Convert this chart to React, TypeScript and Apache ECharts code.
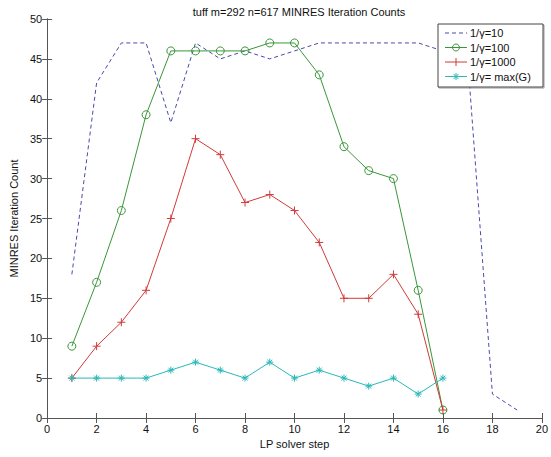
import React, { useEffect, useRef } from "react";
import * as echarts from "echarts";

const titleText = "tuff m=292 n=617 MINRES Iteration Counts";
const xName = "LP solver step";
const yName = "MINRES Iteration Count";
const seriesNames = ["1/γ=10", "1/γ=100", "1/γ=1000", "1/γ= max(G)"];

const stepsLong = [1, 2, 3, 4, 5, 6, 7, 8, 9, 10, 11, 12, 13, 14, 15, 16, 17, 18, 19];
const steps = [1, 2, 3, 4, 5, 6, 7, 8, 9, 10, 11, 12, 13, 14, 15, 16];

const gamma10 = [18, 42, 47, 47, 37, 47, 45, 46, 45, 46, 47, 47, 47, 47, 47, 46, 45, 3, 1];
const gamma100 = [9, 17, 26, 38, 46, 46, 46, 46, 47, 47, 43, 34, 31, 30, 16, 1];
const gamma1000 = [5, 9, 12, 16, 25, 35, 33, 27, 28, 26, 22, 15, 15, 18, 13, 1];
const gammaMax = [5, 5, 5, 5, 6, 7, 6, 5, 7, 5, 6, 5, 4, 5, 3, 5];

const colors = ["#4a4aa8", "#3a963a", "#d03a3a", "#2ab8b8"];

const plusPath = "path://M5,0 L5,10 M0,5 L10,5";
const starPath = "path://M5,0 L5,10 M0,5 L10,5 M1.5,1.5 L8.5,8.5 M1.5,8.5 L8.5,1.5";

const pairs = (xs: number[], ys: number[]) => ys.map((v, i) => [xs[i], v]);

function legendGraphic(font: string) {
  const bx = 438, by = 24, bw = 105, bh = 63;
  const x0 = 445, x1 = 467, xm = 456, tx = 470;
  const rows = [33, 47.5, 62, 76.5];
  const els: any[] = [
    { type: "rect", shape: { x: bx + 1, y: by + 1, width: bw, height: bh }, style: { fill: "none", stroke: "#999", lineWidth: 1 }, z: 99 },
    { type: "rect", shape: { x: bx, y: by, width: bw, height: bh }, style: { fill: "#fff", stroke: "#444", lineWidth: 1 }, z: 100 },
  ];
  rows.forEach((y, i) => {
    const c = colors[i];
    els.push({
      type: "line",
      shape: { x1: x0, y1: y, x2: x1, y2: y },
      style: { stroke: c, lineWidth: 1, lineDash: i === 0 ? [4, 3] : null },
      z: 101,
    });
    if (i === 1) {
      els.push({ type: "circle", shape: { cx: xm, cy: y, r: 3.5 }, style: { fill: "none", stroke: c, lineWidth: 1 }, z: 101 });
    } else if (i === 2) {
      els.push({ type: "line", shape: { x1: xm, y1: y - 4, x2: xm, y2: y + 4 }, style: { stroke: c, lineWidth: 1 }, z: 101 });
    } else if (i === 3) {
      els.push({ type: "line", shape: { x1: xm, y1: y - 3.5, x2: xm, y2: y + 3.5 }, style: { stroke: c, lineWidth: 1 }, z: 101 });
      els.push({ type: "line", shape: { x1: xm - 2.5, y1: y - 2.5, x2: xm + 2.5, y2: y + 2.5 }, style: { stroke: c, lineWidth: 1 }, z: 101 });
      els.push({ type: "line", shape: { x1: xm - 2.5, y1: y + 2.5, x2: xm + 2.5, y2: y - 2.5 }, style: { stroke: c, lineWidth: 1 }, z: 101 });
    }
    els.push({
      type: "text",
      x: tx,
      y: y,
      style: { text: seriesNames[i], fill: "#111", fontSize: 11, fontFamily: font, verticalAlign: "middle", align: "left" },
      z: 101,
    });
  });
  return els;
}

export default function App() {
  const ref = useRef<HTMLDivElement>(null);
  useEffect(() => {
    document.body.style.margin = "0";
    const chart = echarts.init(ref.current!, null, { renderer: "svg" });
    const font = "'Liberation Sans', Arial, sans-serif";
    const axisColor = "#555";
    const tickStyle = { show: true, inside: true, length: 5, lineStyle: { color: axisColor } };
    chart.setOption({
      animation: false,
      backgroundColor: "#fff",
      textStyle: { fontFamily: font },
      title: {
        text: titleText,
        left: 294,
        textAlign: "center",
        top: 1,
        textStyle: { fontSize: 11, fontWeight: "normal", color: "#111", fontFamily: font },
      },
      grid: { left: 42, right: 5, top: 19, bottom: 39, show: false },
      graphic: legendGraphic(font),
      xAxis: [
        {
          type: "value",
          min: 0,
          max: 20,
          interval: 2,
          name: xName,
          nameLocation: "middle",
          nameGap: 20,
          nameTextStyle: { fontSize: 11, color: "#111" },
          axisLine: { show: true, lineStyle: { color: axisColor } },
          axisTick: tickStyle,
          axisLabel: { fontSize: 11, color: "#111", margin: 5 },
          splitLine: { show: false },
        },
        {
          type: "value",
          position: "top",
          min: 0,
          max: 20,
          interval: 2,
          axisLine: { show: true, lineStyle: { color: axisColor } },
          axisTick: tickStyle,
          axisLabel: { show: false },
          splitLine: { show: false },
        },
      ],
      yAxis: [
        {
          type: "value",
          min: 0,
          max: 50,
          interval: 5,
          name: yName,
          nameLocation: "middle",
          nameGap: 25,
          nameTextStyle: { fontSize: 11, color: "#111" },
          axisLine: { show: true, lineStyle: { color: axisColor } },
          axisTick: tickStyle,
          axisLabel: { fontSize: 11, color: "#111", margin: 5 },
          splitLine: { show: false },
        },
        {
          type: "value",
          position: "right",
          min: 0,
          max: 50,
          interval: 5,
          axisLine: { show: true, lineStyle: { color: axisColor } },
          axisTick: tickStyle,
          axisLabel: { show: false },
          splitLine: { show: false },
        },
      ],
      series: [
        {
          name: seriesNames[0],
          type: "line",
          data: pairs(stepsLong, gamma10),
          symbol: "none",
          lineStyle: { color: colors[0], width: 1, type: [4, 3] },
          itemStyle: { color: colors[0] },
        },
        {
          name: seriesNames[1],
          type: "line",
          data: pairs(steps, gamma100),
          symbol: "circle",
          symbolSize: 8,
          lineStyle: { color: colors[1], width: 1 },
          itemStyle: { color: "rgba(0,0,0,0)", borderColor: colors[1], borderWidth: 1 },
        },
        {
          name: seriesNames[2],
          type: "line",
          data: pairs(steps, gamma1000),
          symbol: plusPath,
          symbolSize: 8,
          lineStyle: { color: colors[2], width: 1 },
          itemStyle: { color: colors[2], borderColor: colors[2], borderWidth: 1 },
        },
        {
          name: seriesNames[3],
          type: "line",
          data: pairs(steps, gammaMax),
          symbol: starPath,
          symbolSize: 7,
          lineStyle: { color: colors[3], width: 1 },
          itemStyle: { color: colors[3], borderColor: colors[3], borderWidth: 1 },
        },
      ],
    });
    return () => chart.dispose();
  }, []);
  return <div ref={ref} style={{ width: 551, height: 457, position: "absolute", left: 0, top: 0 }} />;
}
